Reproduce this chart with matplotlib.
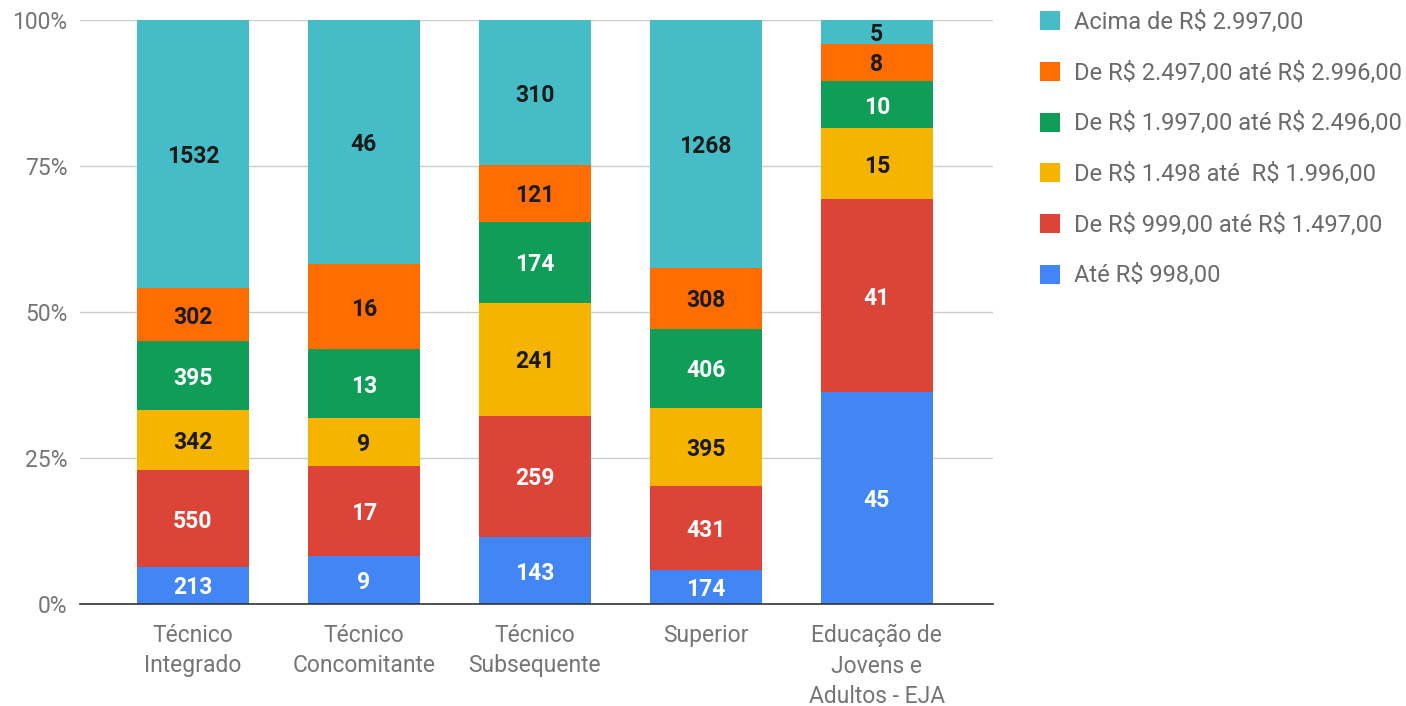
import matplotlib
matplotlib.use("Agg")
import matplotlib.pyplot as plt
import numpy as np

categories = ["Técnico\nIntegrado", "Técnico\nConcomitante", "Técnico\nSubsequente",
              "Superior", "Educação de\nJovens e\nAdultos - EJA"]
series_names = ["Até R$ 998,00", "De R$ 999,00 até R$ 1.497,00", "De R$ 1.498 até  R$ 1.996,00",
                "De R$ 1.997,00 até R$ 2.496,00", "De R$ 2.497,00 até R$ 2.996,00",
                "Acima de R$ 2.997,00"]
ate_998 = [213, 9, 143, 174, 45]
de_999 = [550, 17, 259, 431, 41]
de_1498 = [342, 9, 241, 395, 15]
de_1997 = [395, 13, 174, 406, 10]
de_2497 = [302, 16, 121, 308, 8]
acima_2997 = [1532, 46, 310, 1268, 5]
series = [ate_998, de_999, de_1498, de_1997, de_2497, acima_2997]
colors = ["#4285F4", "#DB4437", "#F4B400", "#0F9D58", "#FF6D01", "#46BDC6"]
label_colors = ["white", "white", "#1a1a1a", "white", "#1a1a1a", "#1a1a1a"]
yticks = [0, 0.25, 0.5, 0.75, 1.0]
ytick_labels = ["0%", "25%", "50%", "75%", "100%"]

plt.rcParams['font.family'] = ['Roboto', 'DejaVu Sans']
plt.rcParams['text.parse_math'] = False

fig = plt.figure(figsize=(14.06, 7.06), dpi=100)
ax = fig.add_axes([80/1406, 1-604/706, 913/1406, 584/706])

data = np.array(series, dtype=float)
totals = data.sum(axis=0)
frac = data / totals
x = np.arange(len(categories))
bottom = np.zeros(len(categories))
handles = []
for i, name in enumerate(series_names):
    b = ax.bar(x, frac[i], bottom=bottom, width=0.655, color=colors[i], label=name, zorder=3)
    handles.append(b)
    for j in range(len(categories)):
        ax.text(x[j], bottom[j] + frac[i][j] / 2, str(series[i][j]), ha='center',
                va='center_baseline', color=label_colors[i], fontsize=16.5,
                fontweight='bold', zorder=4)
    bottom += frac[i]

ax.set_xlim(-0.66, 4.68)
ax.set_ylim(0, 1)
ax.set_yticks(yticks)
ax.set_yticklabels(ytick_labels)
ax.set_xticks(x)
ax.set_xticklabels(categories, linespacing=1.4)
ax.tick_params(axis='both', length=0, labelsize=16.5, labelcolor='#757575')
ax.tick_params(axis='x', pad=14.5)
ax.tick_params(axis='y', pad=9)
for lab in ax.get_yticklabels():
    lab.set_va('center_baseline')
ax.grid(axis='y', color='#cccccc', linewidth=1, zorder=0)
for s in ['top', 'right', 'left']:
    ax.spines[s].set_visible(False)
ax.spines['bottom'].set_color('#333333')
ax.spines['bottom'].set_linewidth(1.2)
ax.spines['bottom'].set_zorder(5)

leg = fig.legend(handles[::-1], series_names[::-1], loc='upper left',
                 bbox_to_anchor=(1040/1406, 1-11/706), frameon=False,
                 fontsize=17, labelcolor='#6a6a6a', handlelength=0.85, handleheight=0.85,
                 handletextpad=0.6, labelspacing=1.17, borderaxespad=0, borderpad=0)

fig.savefig("out.png", dpi=100)
